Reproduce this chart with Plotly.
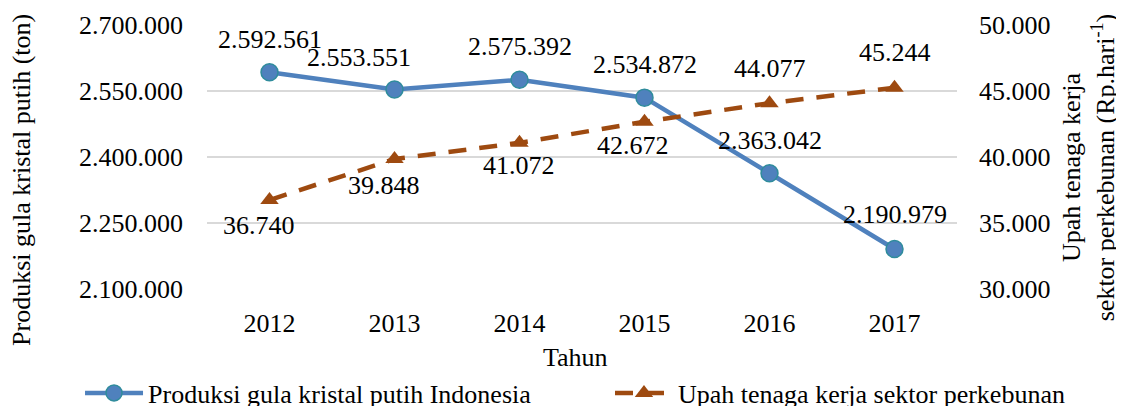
import plotly.graph_objects as go

years = ["2012", "2013", "2014", "2015", "2016", "2017"]
produksi = [2592561, 2553551, 2575392, 2534872, 2363042, 2190979]
upah = [36740, 39848, 41072, 42672, 44077, 45244]

name_prod = "Produksi gula kristal putih Indonesia"
name_upah = "Upah tenaga kerja sektor perkebunan"

BLUE = "#4F81BD"
BROWN = "#9E4A10"
FONT = "Liberation Serif, Times New Roman, Times, serif"
FS = 26

def fmt(v):
    return f"{v:,}".replace(",", ".")

fig = go.Figure()
fig.add_trace(go.Scatter(
    x=years, y=produksi, name=name_prod, mode="lines+markers", legend="legend",
    line=dict(color=BLUE, width=4.5),
    marker=dict(symbol="circle", size=17, color=BLUE, line=dict(color="#2F8C9C", width=1.5)),
))
fig.add_trace(go.Scatter(
    x=years, y=upah, name=name_upah, mode="lines+markers", yaxis="y2", legend="legend2",
    line=dict(color=BROWN, width=4.5, dash="18px,13px"),
    marker=dict(symbol="triangle-up", size=16, color=BROWN),
))

# data label offsets (pixels)
prod_shift = [(0, 33), (-36, 32), (0, 33), (0, 33), (0, 33), (0, 34)]
upah_shift = [(-11, -25), (-11, -26), (-1, -23), (-12, -24), (0, 35), (0, 35)]

txtfont = dict(family=FONT, size=FS, color="#000")
annotations = []
for i, (yv, (dx, dy)) in enumerate(zip(produksi, prod_shift)):
    annotations.append(dict(x=i, y=yv, xref="x", yref="y", text=fmt(yv), showarrow=False,
                            xanchor="center", yanchor="middle",
                            xshift=dx, yshift=dy, font=txtfont))
for i, (yv, (dx, dy)) in enumerate(zip(upah, upah_shift)):
    annotations.append(dict(x=i, y=yv, xref="x", yref="y2", text=fmt(yv), showarrow=False,
                            xanchor="center", yanchor="middle",
                            xshift=dx, yshift=dy, font=txtfont))

# axis titles
annotations.append(dict(x=-0.2467, y=0.413, xref="paper", yref="paper", text="Produksi gula kristal putih (ton)",
                        textangle=-90, showarrow=False, xanchor="center", yanchor="middle", font=txtfont))
annotations.append(dict(x=1.175, y=0.462, xref="paper", yref="paper",
                        text="Upah tenaga kerja<br>sektor perkebunan (Rp.hari<sup>-1</sup>)",
                        textangle=-90, showarrow=False, xanchor="center", yanchor="middle", font=txtfont))
annotations.append(dict(x=0.491, y=-0.258, xref="paper", yref="paper", text="Tahun", xanchor="center",
                        yanchor="middle", showarrow=False, font=txtfont))

legend_common = dict(orientation="h", y=-0.394, yanchor="middle", xanchor="left",
                     font=txtfont, itemwidth=58, bgcolor="rgba(0,0,0,0)")

fig.update_layout(
    width=1116, height=398,
    margin=dict(l=199, r=167, t=17, b=117, autoexpand=False),
    paper_bgcolor="white", plot_bgcolor="white",
    separators=",.",
    font=txtfont,
    showlegend=True,
    legend=dict(x=-0.1693, **legend_common),
    legend2=dict(x=0.5373, **legend_common),
    xaxis=dict(type="category", range=[-0.5, 5.5], showgrid=False, showline=False, zeroline=False,
               ticks="", tickfont=txtfont, ticklabelstandoff=16),
    yaxis=dict(range=[2100000, 2700000], dtick=150000, tickformat=",d", showgrid=True,
               gridcolor="#D9D9D9", gridwidth=1.5, zeroline=False, showline=False,
               tickfont=txtfont, ticklabelstandoff=23),
    yaxis2=dict(range=[30000, 50000], dtick=5000, tickformat=",d", overlaying="y", side="right",
                showgrid=False, zeroline=False, showline=False,
                tickfont=txtfont, ticklabelstandoff=21),
    annotations=annotations,
)

fig.write_html("out.html")
